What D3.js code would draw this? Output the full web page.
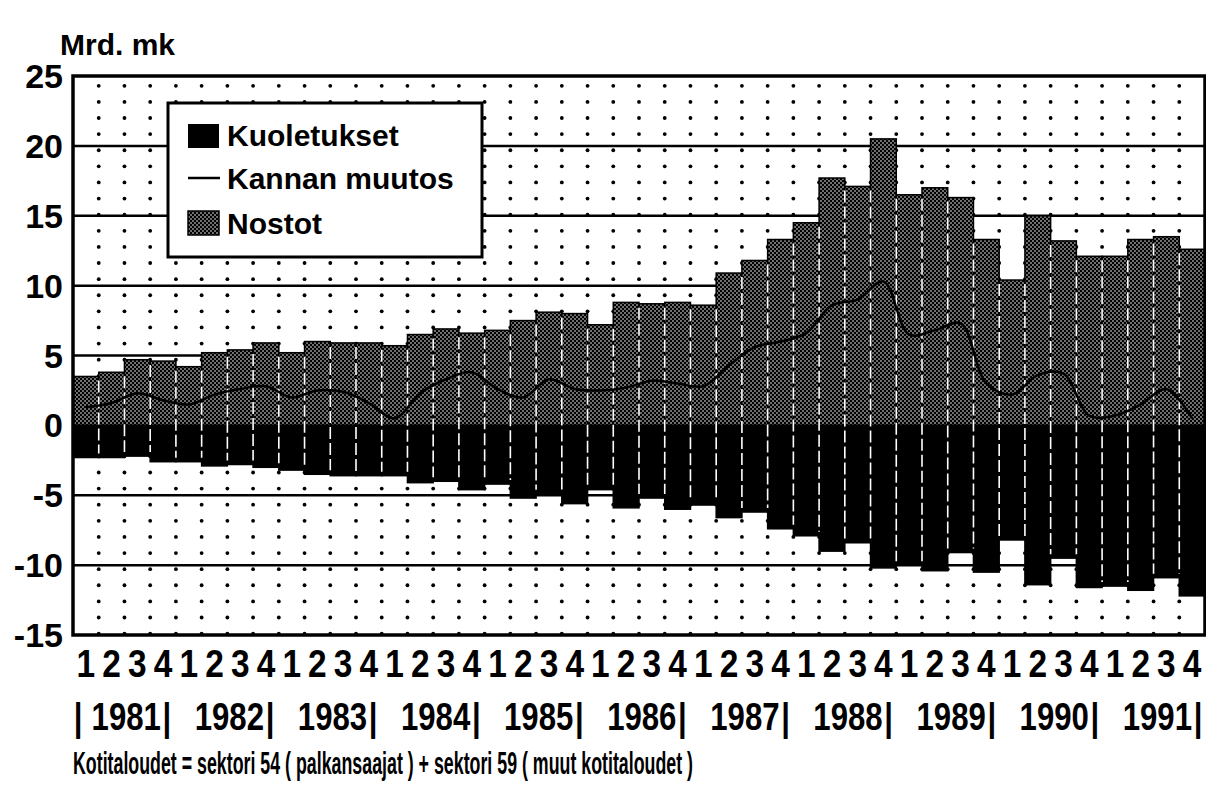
<!DOCTYPE html>
<html>
<head>
<meta charset="utf-8">
<script src="https://cdn.jsdelivr.net/npm/d3@7"></script>
<style>
  body { margin: 0; background: #fff; }
  svg { display: block; font-family: "Liberation Sans", Arial, Helvetica, sans-serif; }
</style>
</head>
<body>
<svg id="chart" width="1206" height="788"></svg>
<script>
// quarters 1981 Q1 .. 1991 Q4
var years = ["1981","1982","1983","1984","1985","1986","1987","1988","1989","1990","1991"];
var quarters = ["1","2","3","4"];

// Nostot (withdrawals), Mrd. mk
var nostot = [3.5, 3.8, 4.7, 4.6,  4.2, 5.2, 5.4, 5.9,  5.2, 6.0, 5.9, 5.9,
              5.7, 6.5, 6.9, 6.6,  6.8, 7.5, 8.1, 8.0,  7.2, 8.8, 8.7, 8.8,
              8.6, 10.9, 11.8, 13.3,  14.5, 17.7, 17.1, 20.5,  16.5, 17.0, 16.3, 13.3,
              10.4, 15.0, 13.2, 12.1,  12.1, 13.3, 13.5, 12.6];

// Kuoletukset (repayments), Mrd. mk
var kuoletukset = [-2.3, -2.3, -2.2, -2.6,  -2.6, -2.9, -2.8, -3.0,  -3.2, -3.5, -3.6, -3.6,
                   -3.6, -4.1, -4.0, -4.6,  -4.2, -5.2, -4.9, -5.6,  -4.6, -5.9, -5.2, -6.0,
                   -5.7, -6.6, -6.2, -7.4,  -7.9, -9.0, -8.4, -10.2,  -10.0, -10.4, -9.1, -10.5,
                   -8.2, -11.4, -9.5, -11.6,  -11.5, -11.8, -10.9, -12.2];

// Kannan muutos (change in stock), Mrd. mk
var kannanMuutos = [1.3, 1.6, 2.3, 1.8,  1.5, 2.2, 2.6, 2.8,  2.0, 2.5, 2.4, 1.6,
                    0.5, 2.3, 3.3, 3.8,  2.6, 2.0, 3.3, 2.6,  2.5, 2.7, 3.2, 3.0,
                    2.8, 4.3, 5.6, 6.0,  6.6, 8.6, 9.0, 10.3,  6.5, 6.8, 7.3, 3.0,
                    2.2, 3.6, 3.7, 0.7,  0.7, 1.5, 2.6, 0.5];

var yTicks = [25, 20, 15, 10, 5, 0, -5, -10, -15];
var gridValues = [20, 15, 10, 5, 0, -5, -10];

var svg = d3.select("#chart");
var plotLeft = 73, plotRight = 1205, plotTop = 76, plotBottom = 635;

var n = nostot.length;
var x = d3.scaleBand().domain(d3.range(n)).range([plotLeft, plotRight]).padding(0);
var y = d3.scaleLinear().domain([-15, 25]).range([plotBottom, plotTop]);

// stipple pattern for Nostot
var defs = svg.append("defs");
var pat = defs.append("pattern")
    .attr("id", "stipple")
    .attr("patternUnits", "userSpaceOnUse")
    .attr("width", 4).attr("height", 4);
pat.append("rect").attr("width", 4).attr("height", 4).attr("fill", "#000");
pat.append("circle").attr("cx", 1).attr("cy", 1).attr("r", 0.8).attr("fill", "#fff");
pat.append("circle").attr("cx", 3).attr("cy", 3).attr("r", 0.8).attr("fill", "#fff");

// dotted background grid (decorative raster)
var dotRows = d3.range(35).map(function(k) { return -14.9 + k * (39.2 / 34); });
var dotCols = d3.range(1, n);
var dots = svg.append("g");
dotCols.forEach(function(i) {
    dotRows.forEach(function(v) {
        dots.append("circle")
            .attr("cx", x(i))
            .attr("cy", y(v))
            .attr("r", 1.9)
            .attr("fill", "#000");
    });
});

// major grid lines
svg.append("g").selectAll("line")
    .data(gridValues)
    .enter().append("line")
    .attr("x1", plotLeft).attr("x2", plotRight)
    .attr("y1", function(d) { return y(d); })
    .attr("y2", function(d) { return y(d); })
    .attr("stroke", "#000")
    .attr("stroke-width", 2.5);

// bars
var bars = svg.append("g");
bars.selectAll("rect.pos")
    .data(nostot)
    .enter().append("rect")
    .attr("class", "pos")
    .attr("x", function(d, i) { return x(i); })
    .attr("width", x.bandwidth())
    .attr("y", function(d) { return y(d); })
    .attr("height", function(d) { return y(0) - y(d); })
    .attr("fill", "url(#stipple)")
    .attr("stroke", "#000")
    .attr("stroke-width", 1.5);

bars.selectAll("rect.neg")
    .data(kuoletukset)
    .enter().append("rect")
    .attr("class", "neg")
    .attr("x", function(d, i) { return x(i); })
    .attr("width", x.bandwidth())
    .attr("y", y(0))
    .attr("height", function(d) { return y(d) - y(0); })
    .attr("fill", "#000")
    .attr("stroke", "#000")
    .attr("stroke-width", 1.5);

// white dashed separators between bars
var seps = svg.append("g");
dotCols.forEach(function(i) {
    var topV = Math.min(nostot[i - 1], nostot[i]);
    var botV = Math.max(kuoletukset[i - 1], kuoletukset[i]);
    seps.append("line")
        .attr("x1", x(i)).attr("x2", x(i))
        .attr("y1", y(topV) + 4)
        .attr("y2", y(botV) - 4)
        .attr("stroke", "#fff")
        .attr("stroke-width", 1.6)
        .attr("stroke-dasharray", "12,4");
});

// Kannan muutos line
var line = d3.line()
    .curve(d3.curveCatmullRom)
    .x(function(d, i) { return x(i) + x.bandwidth() / 2; })
    .y(function(d) { return y(d); });

svg.append("path")
    .datum(kannanMuutos)
    .attr("d", line)
    .attr("fill", "none")
    .attr("stroke", "#000")
    .attr("stroke-width", 2.5);

// frame
svg.append("rect")
    .attr("x", plotLeft).attr("y", plotTop)
    .attr("width", plotRight - plotLeft).attr("height", plotBottom - plotTop)
    .attr("fill", "none")
    .attr("stroke", "#000")
    .attr("stroke-width", 3.5);

// y axis labels
svg.append("g").selectAll("text")
    .data(yTicks)
    .enter().append("text")
    .attr("x", 63)
    .attr("y", function(d) { return y(d) + 12; })
    .attr("text-anchor", "end")
    .attr("font-size", 34)
    .attr("font-weight", "bold")
    .text(function(d) { return d; });

svg.append("text")
    .attr("x", 60).attr("y", 55)
    .attr("font-size", 30)
    .attr("font-weight", "bold")
    .text("Mrd. mk");

// quarter digits
var qLabels = svg.append("g");
d3.range(n).forEach(function(i) {
    qLabels.append("text")
        .attr("transform", "translate(" + (x(i) + x.bandwidth() / 2) + ",677) scale(0.88,1)")
        .attr("text-anchor", "middle")
        .attr("font-size", 38)
        .attr("font-weight", "bold")
        .text(quarters[i % 4]);
});

// year labels with separators
var yLabels = svg.append("g");
function pipe(px) {
    yLabels.append("text")
        .attr("transform", "translate(" + px + ",730) scale(0.82,1)")
        .attr("text-anchor", "middle")
        .attr("font-size", 38)
        .attr("font-weight", "bold")
        .text("|");
}
pipe(x(0) + 5);
years.forEach(function(yr, k) {
    var x1 = x(k * 4 + 3) + x.bandwidth();
    var px = x1 - 9 + k * 0.2;
    yLabels.append("text")
        .attr("transform", "translate(" + (px - 6) + ",730) scale(0.82,1)")
        .attr("text-anchor", "end")
        .attr("font-size", 38)
        .attr("font-weight", "bold")
        .text(yr);
    pipe(px);
});

// footer note
svg.append("text")
    .attr("x", 73).attr("y", 774)
    .attr("font-size", 32)
    .attr("font-weight", "bold")
    .attr("textLength", 620)
    .attr("lengthAdjust", "spacingAndGlyphs")
    .text("Kotitaloudet = sektori 54 ( palkansaajat ) + sektori 59 ( muut kotitaloudet )");

// legend
var lg = svg.append("g");
lg.append("rect")
    .attr("x", 168).attr("y", 103)
    .attr("width", 314).attr("height", 154)
    .attr("fill", "#fff")
    .attr("stroke", "#000")
    .attr("stroke-width", 3);
lg.append("rect")
    .attr("x", 188).attr("y", 124).attr("width", 31).attr("height", 24)
    .attr("fill", "#000");
lg.append("line")
    .attr("x1", 188).attr("x2", 220).attr("y1", 178).attr("y2", 178)
    .attr("stroke", "#000").attr("stroke-width", 2.5);
lg.append("rect")
    .attr("x", 188).attr("y", 211).attr("width", 31).attr("height", 24)
    .attr("fill", "url(#stipple)")
    .attr("stroke", "#000").attr("stroke-width", 1.5);
var legendText = ["Kuoletukset", "Kannan muutos", "Nostot"];
var legendY = [146, 189, 234];
legendText.forEach(function(t, i) {
    lg.append("text")
        .attr("x", 227).attr("y", legendY[i])
        .attr("font-size", 30)
        .attr("font-weight", "bold")
        .text(t);
});
</script>
</body>
</html>
